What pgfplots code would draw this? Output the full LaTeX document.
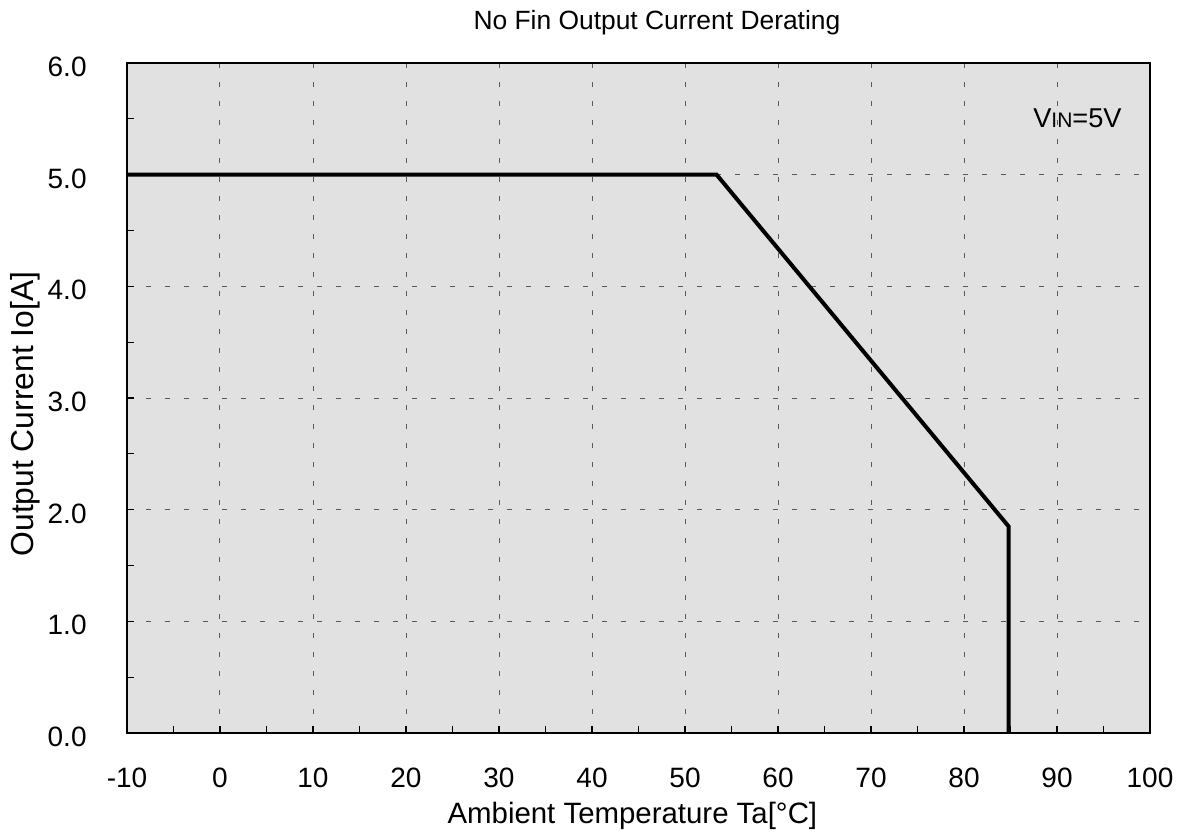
\documentclass[border=0pt]{standalone}
\usepackage{fontspec}
\setmainfont{Liberation Sans}
\usepackage{pgfplots}
\pgfplotsset{compat=1.18}
\definecolor{plotbg}{RGB}{225,225,225}
\definecolor{gridgray}{RGB}{90,90,90}
\begin{document}
\begin{tikzpicture}
\path (-63.5pt,-51.5pt) rectangle (530.5pt,366.5pt);
\begin{axis}[
    at={(0pt,0pt)}, anchor=south west,
    scale only axis,
    width=511.5pt, height=335pt,
    xmin=-10, xmax=100, ymin=0, ymax=6,
    xtick distance=10, ytick distance=1,
    minor x tick num=1, minor y tick num=1,
    xtick pos=bottom, ytick pos=left,
    tick align=inside,
    major tick length=3.5pt, minor tick length=3.5pt,
    tick style={black, line width=0.6pt},
    axis line style={black, line width=1pt},
    axis background/.style={fill=plotbg},
    grid=major,
    major grid style={gridgray, line width=0.5pt, dash pattern=on 2.5pt off 7pt},
    /pgf/number format/assume math mode=true,
    tick label style={font=\fontsize{14}{16}\selectfont, inner sep=0pt},
    yticklabel style={/pgf/number format/fixed, /pgf/number format/fixed zerofill, /pgf/number format/precision=1, anchor=east, xshift=-20pt, yshift=-2pt},
    xticklabel style={anchor=base, yshift=-27pt},
    label style={inner sep=0pt},
    xlabel={Ambient Temperature Ta[\textdegree C]},
    x label style={font=\fontsize{14.7}{16}\selectfont, at={(axis description cs:0.494,0)}, anchor=base, yshift=-45pt},
    ylabel={Output Current Io[A]},
    y label style={font=\fontsize{15.9}{18}\selectfont, at={(axis description cs:-0.0997,0.476)}, anchor=center},
    clip=false,
]
\addplot[black, line width=2pt, line join=miter] coordinates {
    (-10,5) (53.4,5) (84.8,1.85) (84.8,0)
};
\node[font=\fontsize{13.6}{15}\selectfont, anchor=base, inner sep=0pt] at (axis cs:92.2,5.42) {V{\fontsize{10.5}{12}\selectfont IN}=5V};
\node[font=\fontsize{13.2}{15}\selectfont, anchor=base, inner sep=0pt] at ([yshift=17pt]axis description cs:0.518,1) {No Fin Output Current Derating};
\end{axis}
\end{tikzpicture}
\end{document}
